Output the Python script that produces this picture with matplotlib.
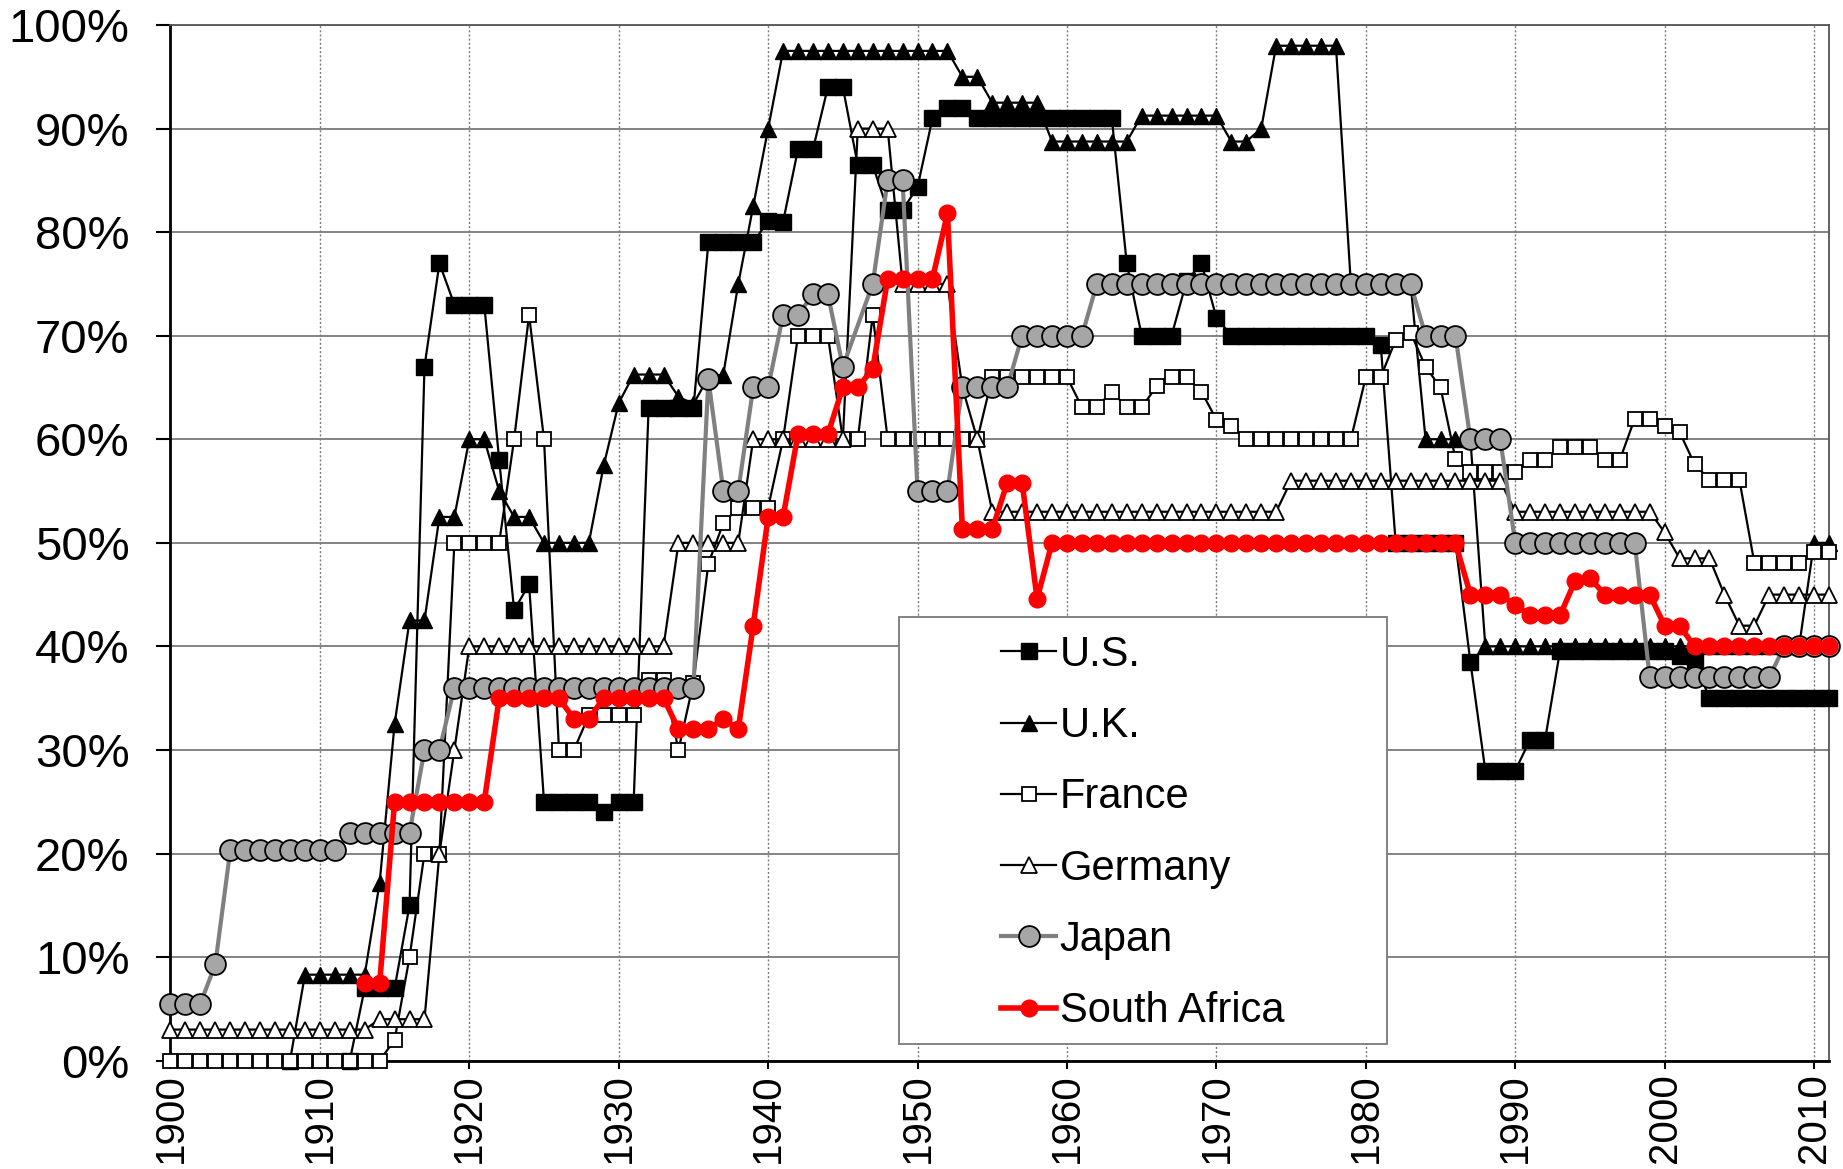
import numpy as np
import matplotlib
matplotlib.use("Agg")
import matplotlib.pyplot as plt
from matplotlib.patches import Rectangle

plt.rcParams["font.family"] = ["Liberation Sans", "DejaVu Sans"]

nan = np.nan
years = np.arange(1900, 2012)

# top marginal income tax rates (%), one value per year 1900-2011
us = [
    nan, nan, nan, nan, nan, nan, nan, nan, nan, nan,
    nan, nan, 0, 7, 7, 7, 15, 67, 77, 73,
    73, 73, 58, 43.5, 46, 25, 25, 25, 25, 24,
    25, 25, 63, 63, 63, 63, 79, 79, 79, 79,
    81.1, 81, 88, 88, 94, 94, 86.45, 86.45, 82.13, 82.13,
    84.36, 91, 92, 92, 91, 91, 91, 91, 91, 91,
    91, 91, 91, 91, 77, 70, 70, 70, 75.25, 77,
    71.75, 70, 70, 70, 70, 70, 70, 70, 70, 70,
    70, 69.13, 50, 50, 50, 50, 50, 38.5, 28, 28,
    28, 31, 31, 39.6, 39.6, 39.6, 39.6, 39.6, 39.6, 39.6,
    39.6, 39.1, 38.6, 35, 35, 35, 35, 35, 35, 35,
    35, 35,
]
uk = [
    nan, nan, nan, nan, nan, nan, nan, nan, 0, 8.3,
    8.3, 8.3, 8.3, 8.3, 17.2, 32.5, 42.5, 42.5, 52.5, 52.5,
    60, 60, 55, 52.5, 52.5, 50, 50, 50, 50, 57.5,
    63.5, 66.25, 66.25, 66.25, 64.1, 63.4, 66, 66.25, 75, 82.5,
    90, 97.5, 97.5, 97.5, 97.5, 97.5, 97.5, 97.5, 97.5, 97.5,
    97.5, 97.5, 97.5, 95, 95, 92.5, 92.5, 92.5, 92.5, 88.75,
    88.75, 88.75, 88.75, 88.75, 88.75, 91.25, 91.25, 91.25, 91.25, 91.25,
    91.25, 88.75, 88.75, 90, 98, 98, 98, 98, 98, 75,
    75, 75, 75, 75, 60, 60, 60, 60, 40, 40,
    40, 40, 40, 40, 40, 40, 40, 40, 40, 40,
    40, 40, 40, 40, 40, 40, 40, 40, 40, 40,
    50, 50,
]
france = [
    0, 0, 0, 0, 0, 0, 0, 0, 0, 0,
    0, 0, 0, 0, 0, 2, 10, 20, 20, 50,
    50, 50, 50, 60, 72, 60, 30, 30, 33.33, 33.33,
    33.33, 33.33, 36.75, 36.75, 30, 36.5, 48, 51.9, 53.4, 53.4,
    53.4, 60, 70, 70, 70, 60, 60, 72, 60, 60,
    60, 60, 60, 60, 60, 66, 66, 66, 66, 66,
    66, 63.1, 63.1, 64.6, 63.1, 63.1, 65.1, 66, 66, 64.6,
    61.9, 61.3, 60, 60, 60, 60, 60, 60, 60, 60,
    66, 66, 69.6, 70.3, 67, 65, 58.1, 56.8, 56.8, 56.8,
    56.8, 58, 58, 59.3, 59.3, 59.3, 58, 58, 62, 62,
    61.3, 60.7, 57.6, 56.1, 56.1, 56.1, 48.1, 48.1, 48.1, 48.1,
    49.1, 49.1,
]
germany = [
    3, 3, 3, 3, 3, 3, 3, 3, 3, 3,
    3, 3, 3, 3, 4, 4, 4, 4, 20, 30,
    40, 40, 40, 40, 40, 40, 40, 40, 40, 40,
    40, 40, 40, 40, 50, 50, 50, 50, 50, 60,
    60, 60, 60, 60, 60, 60, 90, 90, 90, 75,
    75, 75, 75, 65, 60, 53, 53, 53, 53, 53,
    53, 53, 53, 53, 53, 53, 53, 53, 53, 53,
    53, 53, 53, 53, 53, 56, 56, 56, 56, 56,
    56, 56, 56, 56, 56, 56, 56, 56, 56, 56,
    53, 53, 53, 53, 53, 53, 53, 53, 53, 53,
    51, 48.5, 48.5, 48.5, 45, 42, 42, 45, 45, 45,
    45, 45,
]
japan = [
    5.5, 5.5, 5.5, 9.3, 20.3, 20.3, 20.3, 20.3, 20.3, 20.3,
    20.3, 20.3, 22, 22, 22, 22, 22, 30, 30, 36,
    36, 36, 36, 36, 36, 36, 36, 36, 36, 36,
    36, 36, 36, 36, 36, 36, 65.8, 55, 55, 65,
    65, 72, 72, 74, 74, 67, nan, 75, 85, 85,
    55, 55, 55, 65, 65, 65, 65, 70, 70, 70,
    70, 70, 75, 75, 75, 75, 75, 75, 75, 75,
    75, 75, 75, 75, 75, 75, 75, 75, 75, 75,
    75, 75, 75, 75, 70, 70, 70, 60, 60, 60,
    50, 50, 50, 50, 50, 50, 50, 50, 50, 37,
    37, 37, 37, 37, 37, 37, 37, 37, 40, 40,
    40, 40,
]
south_africa = [
    nan, nan, nan, nan, nan, nan, nan, nan, nan, nan,
    nan, nan, nan, 7.5, 7.5, 25, 25, 25, 25, 25,
    25, 25, 35, 35, 35, 35, 35, 33, 33, 35,
    35, 35, 35, 35, 32, 32, 32, 33, 32, 42,
    52.5, 52.5, 60.5, 60.5, 60.5, 65, 65, 66.8, 75.5, 75.5,
    75.5, 75.5, 81.8, 51.3, 51.3, 51.3, 55.8, 55.8, 44.6, 50,
    50, 50, 50, 50, 50, 50, 50, 50, 50, 50,
    50, 50, 50, 50, 50, 50, 50, 50, 50, 50,
    50, 50, 50, 50, 50, 50, 50, 45, 45, 45,
    44, 43, 43, 43, 46.3, 46.6, 45, 45, 45, 45,
    42, 42, 40, 40, 40, 40, 40, 40, 40, 40,
    40, 40,
]

series = [
    ("U.S.", us, dict(color="black", lw=1.6, marker="s", ms=11,
                      mfc="black", mec="black", mew=1.0)),
    ("U.K.", uk, dict(color="black", lw=1.6, marker="^", ms=12,
                      mfc="black", mec="black", mew=1.0)),
    ("France", france, dict(color="black", lw=1.6, marker="s", ms=10,
                            mfc="white", mec="black", mew=1.3)),
    ("Germany", germany, dict(color="black", lw=1.6, marker="^", ms=12,
                              mfc="white", mec="black", mew=1.3)),
    ("Japan", japan, dict(color="#808080", lw=3.0, marker="o", ms=15,
                          mfc="#a6a6a6", mec="black", mew=1.3)),
    ("South Africa", south_africa, dict(color="#ff0000", lw=4.0, marker="o", ms=12,
                                        mfc="#ff0000", mec="#ff0000", mew=1.0)),
]

fig = plt.figure(figsize=(18.43, 11.69), dpi=100)
ax = fig.add_axes([0.0925, 0.0927, 0.8999, 0.8859])

handles = []
for i, (name, vals, style) in enumerate(series):
    v = np.array(vals, dtype=float)
    ok = ~np.isnan(v)
    (h,) = ax.plot(years[ok], v[ok], label=name, clip_on=False, zorder=3 + i, **style)
    handles.append(h)

ax.set_xlim(1900, 2011)
ax.set_ylim(0, 100)

ax.set_xticks(np.arange(1900, 2011, 10))
ax.set_xticklabels([str(y) for y in range(1900, 2011, 10)], rotation=90)
ax.set_yticks(np.arange(0, 101, 10))
ax.set_yticklabels([f"{t}%" for t in range(0, 101, 10)])

ax.tick_params(axis="y", direction="out", length=10, width=1.5, labelsize=34, pad=19.5)
ax.tick_params(axis="x", direction="out", length=6, width=1.5, labelsize=29, pad=3)

ax.set_axisbelow(True)
ax.yaxis.grid(True, color="#7a7a7a", lw=1.3, ls="-")
ax.xaxis.grid(True, color="#7a7a7a", lw=1.0, ls=(0, (1.5, 1.5)))

for side in ["left", "bottom"]:
    ax.spines[side].set_linewidth(2.0)
    ax.spines[side].set_color("black")
for side in ["top", "right"]:
    ax.spines[side].set_linewidth(1.3)
    ax.spines[side].set_color("#555555")

# legend box sits inside the plot, covering the lines beneath it
box = Rectangle((0.4393, 0.016), 0.294, 0.412, transform=ax.transAxes,
                facecolor="white", edgecolor="#7a7a7a", lw=1.3, zorder=20)
ax.add_patch(box)
leg = ax.legend(handles=handles, loc="center", bbox_to_anchor=(0.4393 + 0.147, 0.0137 + 0.206),
                frameon=False, fontsize=30, handlelength=1.3, handletextpad=0.1,
                labelspacing=0.75, borderaxespad=0)
leg.set_zorder(21)

fig.savefig("out.png", dpi=100)
